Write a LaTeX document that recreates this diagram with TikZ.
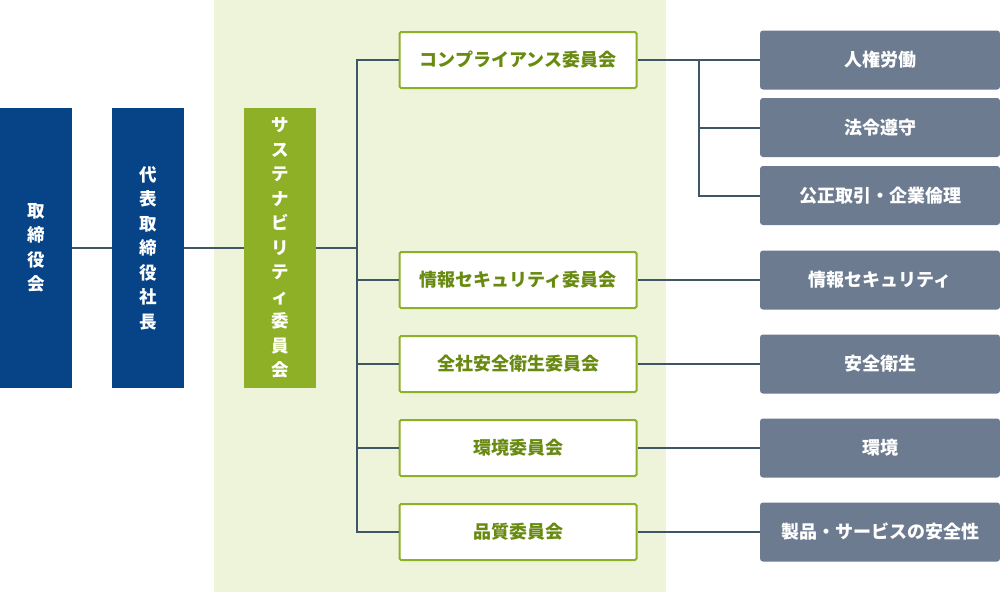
\documentclass[tikz,border=0pt]{standalone}
\usepackage{fontspec}
\setmainfont{Noto Sans CJK JP}
\definecolor{boardblue}{HTML}{064387}
\definecolor{leaf}{HTML}{8DB026}
\definecolor{leaftext}{HTML}{688A10}
\definecolor{paleleaf}{HTML}{EEF4DA}
\definecolor{slate}{HTML}{6C7B8F}
\definecolor{wire}{HTML}{3F5664}

\begin{document}
\begin{tikzpicture}[x=1pt,y=-1pt,
    every node/.style={inner sep=0pt},
    vbox/.style={minimum width=72pt,minimum height=280pt,align=center,
        text=white,font=\bfseries\fontsize{17.5}{24.5}\selectfont},
    board/.style={vbox,fill=boardblue},
    sustbox/.style={vbox,fill=leaf},
    cmte/.style={draw=leaf,line width=2pt,fill=white,rounded corners=1.5pt,
        minimum width=237pt,minimum height=56pt,text=leaftext,
        font=\bfseries\fontsize{18}{20}\selectfont},
    theme/.style={fill=slate,rounded corners=3pt,minimum width=240pt,
        minimum height=59pt,text=white,font=\bfseries\fontsize{18}{20}\selectfont},
    conn/.style={draw=wire,line width=2pt}]
\useasboundingbox (0,0) rectangle (1000,592);
\fill[paleleaf] (214,0) rectangle (666,592);

\node [board]   (bod)   at ( 36,248) {取\\締\\役\\会};
\node [board]   (ceo)   at (148,248) {代\\表\\取\\締\\役\\社\\長};
\node [sustbox] (sust)  at (280,248) {サ\\ス\\テ\\ナ\\ビ\\リ\\テ\\ィ\\委\\員\\会};

\node [cmte]  (comp)   at (518, 60) {コンプライアンス委員会};
\node [cmte]  (infoc)  at (518,280) {情報セキュリティ委員会};
\node [cmte]  (safec)  at (518,364) {全社安全衛生委員会};
\node [cmte]  (envc)   at (518,448) {環境委員会};
\node [cmte]  (qualc)  at (518,532) {品質委員会};

\node [theme] (rights) at (880, 60) {人権労働};
\node [theme] (law)    at (880,127.5) {法令遵守};
\node [theme] (fair)   at (880,195.5) {公正取引・企業倫理};
\node [theme] (infot)  at (880,280) {情報セキュリティ};
\node [theme] (safet)  at (880,364) {安全衛生};
\node [theme] (envt)   at (880,448) {環境};
\node [theme] (prodt)  at (880,532) {製品・サービスの安全性};

\coordinate (bus)  at (357,0);
\coordinate (fork) at (699,0);

\draw[conn] (bod)  -- (ceo);
\draw[conn] (ceo)  -- (sust);
\draw[conn] (sust.east) -- (sust.east -| bus);
\draw[conn] (comp.west) -| (bus |- qualc.west) -- (qualc.west);
\foreach \c in {infoc,safec,envc}
    \draw[conn] (\c.west -| bus) -- (\c.west);

\draw[conn] (comp.east) -- (rights.west);
\draw[conn] (comp.east -| fork) |- (fair.west);
\draw[conn] (law.west -| fork) -- (law.west);
\draw[conn] (infoc) -- (infot);
\draw[conn] (safec) -- (safet);
\draw[conn] (envc)  -- (envt);
\draw[conn] (qualc) -- (prodt);
\end{tikzpicture}
\end{document}
